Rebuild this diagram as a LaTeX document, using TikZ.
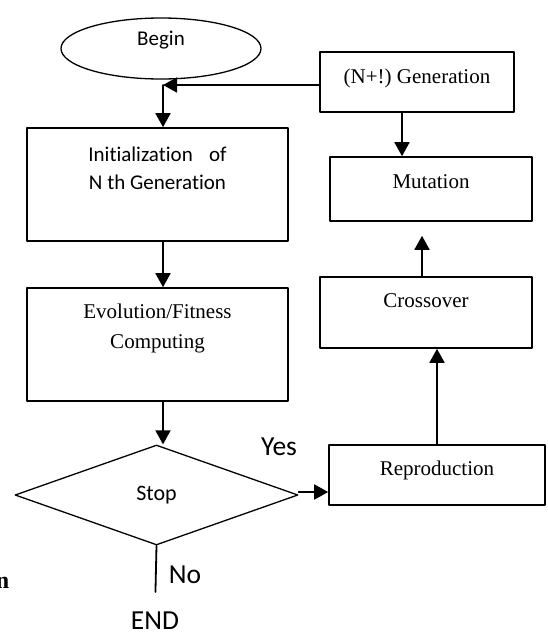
\documentclass[tikz,border=0pt]{standalone}
\usepackage{fontspec}
\setmainfont{Liberation Serif}
\newfontfamily\calibri[Ligatures=NoCommon]{Carlito}
\usetikzlibrary{shapes.geometric, arrows.meta}
\frenchspacing

\begin{document}
\begin{tikzpicture}[x=1pt, y=-1pt, line cap=round, line join=round,
		box/.style={draw=black, line width=1.6pt, fill=white, inner sep=0pt},
		sanstext/.style={font=\calibri\fontsize{21}{28}\selectfont},
		seriftext/.style={font=\fontsize{21}{30}\selectfont},
		bigtext/.style={font=\calibri\fontsize{27.5}{30}\selectfont, inner sep=0pt},
		flow/.style={line width=1.8pt, -{Triangle[width=15pt, length=14pt]}},
		plain/.style={line width=1.8pt}]
	\useasboundingbox (0, 0) rectangle (547, 635);
	% Left column
	\node [ellipse, draw=black, line width=1.3pt, minimum width=200pt, minimum height=61pt, inner sep=0pt, sanstext, text height=15pt, text depth=21pt] (begin) at (161, 48.5) {Begin};
	\node [box, sanstext, minimum width=261pt, minimum height=113pt, text depth=37.6pt] (init) at (157.5, 184.5) {\begin{tabular}[b]{@{}c@{}}Initialization\hspace{0.55em} of\\N th Generation\end{tabular}};
	\node [box, seriftext, minimum width=261pt, minimum height=113pt, text depth=43pt] (evo) at (157.5, 344.5) {\begin{tabular}[b]{@{}c@{}}Evolution/Fitness\\Computing\end{tabular}};
	\node [diamond, draw=black, line width=1.3pt, minimum width=283pt, minimum height=100pt, inner sep=0pt, font=\calibri\fontsize{22}{26}\selectfont] (stop) at (156.5, 495) {Stop};
	% Right column
	\node [box, seriftext, minimum width=194pt, minimum height=60pt, text height=15pt, text depth=13pt] (gen) at (417, 82) {(N+!) Generation};
	\node [box, seriftext, minimum width=202pt, minimum height=64pt, text height=15pt, text depth=17pt] (mut) at (431, 189) {Mutation};
	\node [box, seriftext, minimum width=212pt, minimum height=71pt, text height=15pt, text depth=26pt] (cross) at (426, 312.5) {Crossover};
	\node [box, seriftext, minimum width=216pt, minimum height=60pt, text height=15pt, text depth=15pt] (repro) at (437, 475) {Reproduction};
	% Free labels
	\node [bigtext] (yes) at (279, 447) {Yes};
	\node [bigtext] (no) at (185, 575) {No};
	\node [bigtext] (end) at (155, 621) {END};
	\node [font=\bfseries\fontsize{24}{28}\selectfont, inner sep=0pt] (cut) at (2.5, 583) {n};
	% Connectors
	\coordinate (join) at (163, 85);
	\draw [flow] (gen.west |- join) -- (join);
	\draw [flow] (join) -- (init.north -| join);
	\draw [flow] (init.south -| join) -- (evo.north -| join);
	\draw [flow] (evo.south -| join) -- (stop.north -| join);
	\draw [flow] ([yshift=3pt]stop.east) -- ([yshift=3pt]stop.east -| repro.west);
	\draw [plain, shorten >=20pt] (stop.south) -- (end.north);
	\draw [flow] (repro.north) -- (repro.north |- cross.south);
	\draw [flow, shorten >=14pt] ([xshift=-4pt]cross.north) -- ([xshift=-4pt]cross.north |- mut.south);
	\draw [flow] ([xshift=-15pt]gen.south) -- ([xshift=-15pt]gen.south |- mut.north);
\end{tikzpicture}
\end{document}
